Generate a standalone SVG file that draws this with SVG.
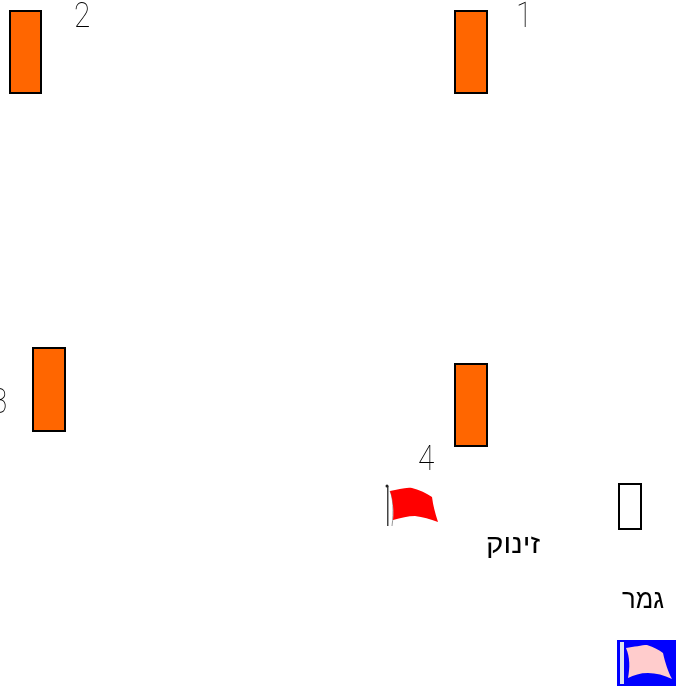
<svg xmlns="http://www.w3.org/2000/svg" width="677" height="686" viewBox="0 0 677 686">
<defs><filter id="gray" x="-50%" y="-50%" width="200%" height="200%" color-interpolation-filters="sRGB"><feOffset dx="0" dy="0"/></filter></defs>
<style>
.box{fill:#ff6600;stroke:#000;stroke-width:2}
.num{font-family:"Roboto","Inter",sans-serif;font-weight:100;font-size:35px;fill:#000;filter:url(#gray)}
.heb{font-family:"Liberation Sans",sans-serif;font-size:27px;fill:#000;filter:url(#gray)}
</style>
<g id="node-1"><rect class="box" x="455" y="11" width="32" height="82"/><text class="num" transform="translate(516 27) scale(.85 1)">1</text></g>
<g id="node-2"><rect class="box" x="10" y="11" width="31" height="82"/><text class="num" transform="translate(74 27) scale(.85 1)">2</text></g>
<g id="node-3"><rect class="box" x="33" y="348" width="32" height="83"/><text class="num" transform="translate(-9 413) scale(.85 1)">3</text></g>
<g id="node-4"><rect class="box" x="455" y="364" width="32" height="82"/><text class="num" transform="translate(418 470) scale(.85 1)">4</text></g>
<g id="start-flag">
<rect x="387" y="486" width="1.500" height="40" fill="#444"/>
<circle cx="387" cy="486" r="1.500" fill="#222"/>
<path d="M390 491C393 497 394 512 392 526" fill="none" stroke="#999" stroke-width="1"/>
<path d="M390 491C398 490 405 487 412 488C420 490 426 493 432 497C433 505 435 513 438 522C430 519 423 517 415 516C408 516 401 518 393 520C394 510 393 500 390 491Z" fill="#ff0000"/>
</g>
<g id="end-flag">
<rect x="617" y="640" width="59" height="46" fill="#0000ff"/>
<rect x="620" y="642" width="4" height="42" fill="#dde3ee"/>
<path d="M626 648C634 647 642 645 647 645C654 647 659 650 663 653C665 662 668 672 672 679C664 675 656 673 648 673C640 673 634 675 628 678C630 668 630 657 626 648Z" fill="#ffcccc"/>
</g>
<g id="empty-box"><rect x="619" y="484" width="22" height="45" fill="#fff" stroke="#000" stroke-width="2"/></g>
<g id="label-start"><text class="heb" x="513" y="553" text-anchor="middle" direction="rtl" textLength="54" lengthAdjust="spacingAndGlyphs">זינוק</text></g>
<g id="label-end"><text class="heb" x="643" y="608" text-anchor="middle" direction="rtl" textLength="42" lengthAdjust="spacingAndGlyphs">גמר</text></g>
<g id="connectors"/>
</svg>
